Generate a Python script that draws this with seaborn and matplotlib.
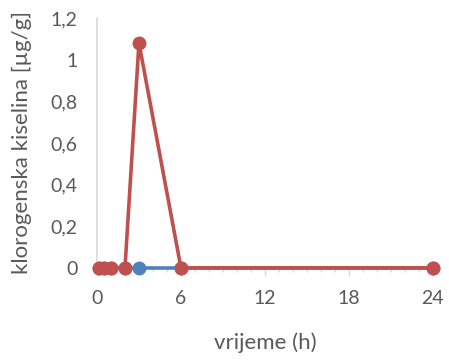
import matplotlib
matplotlib.use("Agg")
import matplotlib.pyplot as plt
import seaborn as sns
import pandas as pd
from matplotlib.ticker import MultipleLocator, FuncFormatter

time_h = [0.17, 0.5, 1, 2, 3, 6, 24]
series_blue = [0, 0, 0, 0, 0, 0, 0]
series_red = [0, 0, 0, 0, 1.08, 0, 0]
series_names = ["A", "B"]

df = pd.DataFrame({
    "t": time_h * 2,
    "v": series_blue + series_red,
    "s": [series_names[0]] * len(time_h) + [series_names[1]] * len(time_h),
})

sns.set_style("white")
plt.rcParams['font.family'] = ['Lato', 'DejaVu Sans']

fig = plt.figure(figsize=(4.49, 3.60), dpi=100)
ax = fig.add_axes([0.216, 0.256, 0.748, 0.694])

sns.lineplot(data=df, x="t", y="v", hue="s", palette=["#4F81BD", "#C0504D"],
             marker="o", markersize=10, markeredgewidth=0, linewidth=2.6,
             legend=False, ax=ax, clip_on=False, zorder=3)

ax.set_xlim(0, 24)
ax.set_ylim(0, 1.2)
ax.xaxis.set_major_locator(MultipleLocator(6))
ax.xaxis.set_minor_locator(MultipleLocator(1))
ax.yaxis.set_major_locator(MultipleLocator(0.2))
ax.yaxis.set_major_formatter(FuncFormatter(lambda v, p: ("%g" % round(v, 1)).replace(".", ",")))

for s in ["top", "right"]:
    ax.spines[s].set_visible(False)
ax.spines["left"].set_color("#D9D9D9")
ax.spines["bottom"].set_color("#D9D9D9")
ax.spines["left"].set_linewidth(1.2)
ax.spines["bottom"].set_linewidth(1.2)

ax.tick_params(axis="x", which="major", length=6, width=1, color="#D9D9D9",
               labelsize=14, labelcolor="#595959", pad=10, direction="out", bottom=True)
ax.tick_params(axis="x", which="minor", length=3, width=1, color="#D9D9D9", bottom=True)
ax.tick_params(axis="y", length=0, labelsize=14, labelcolor="#595959", pad=14)

ax.set_xlabel("vrijeme (h)", fontsize=16, color="#595959", labelpad=18)
ax.set_ylabel("klorogenska kiselina [µg/g]", fontsize=16, color="#595959", labelpad=13)

fig.savefig("out.png", dpi=100)
